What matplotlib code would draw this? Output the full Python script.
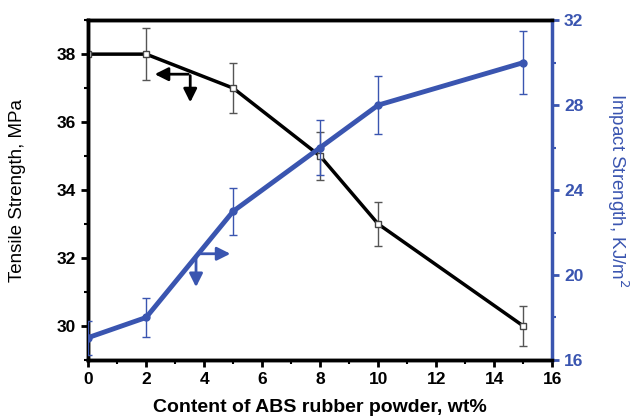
import matplotlib.pyplot as plt
from matplotlib.ticker import MultipleLocator

plt.rcParams['font.family'] = ['Liberation Sans', 'DejaVu Sans']

content = [0, 2, 5, 8, 10, 15]
tensile = [38, 38, 37, 35, 33, 30]
tensile_err = [0.0, 0.76, 0.74, 0.7, 0.65, 0.6]
impact = [17.05, 18, 23, 26, 28, 30]
impact_err = [0.8, 0.9, 1.1, 1.3, 1.37, 1.5]

blue = '#3a55b0'

fig = plt.figure(figsize=(6.34, 4.2), dpi=100)
ax = fig.add_axes([0.139, 0.143, 0.732, 0.809])
ax2 = ax.twinx()

ax.errorbar(content, tensile, yerr=tensile_err, color='black', lw=2.5,
            marker='s', ms=5, mfc='white', mec='#444444', mew=1,
            ecolor='#555555', elinewidth=1, capsize=3, zorder=3)
ax2.errorbar(content, impact, yerr=impact_err, color=blue, lw=3.5,
             marker='o', ms=5, mfc=blue, mec=blue,
             ecolor=blue, elinewidth=1, capsize=3, zorder=3)

ax.set_xlim(0, 16)
ax.set_ylim(29, 39)
ax2.set_ylim(16, 32)

# arrows pointing to the axes
arrow_k = dict(arrowstyle='-|>,head_length=0.5,head_width=0.25', color='black',
               lw=2, mutation_scale=16)
arrow_b = dict(arrowstyle='-|>,head_length=0.5,head_width=0.25', color=blue,
               lw=2, mutation_scale=16)
ax.annotate('', xy=(2.2, 37.41), xytext=(3.55, 37.41), arrowprops=arrow_k)
ax.annotate('', xy=(3.52, 36.5), xytext=(3.52, 37.45), arrowprops=arrow_k)
ax2.annotate('', xy=(5.0, 21.0), xytext=(3.7, 21.0), arrowprops=arrow_b)
ax2.annotate('', xy=(3.72, 19.3), xytext=(3.72, 21.05), arrowprops=arrow_b)

ax.xaxis.set_major_locator(MultipleLocator(2))
ax.xaxis.set_minor_locator(MultipleLocator(1))
ax.yaxis.set_major_locator(MultipleLocator(2))
ax.yaxis.set_minor_locator(MultipleLocator(1))
ax2.yaxis.set_major_locator(MultipleLocator(4))
ax2.yaxis.set_minor_locator(MultipleLocator(2))

for s in ['left', 'bottom', 'top']:
    ax.spines[s].set_linewidth(2.5)
    ax2.spines[s].set_linewidth(2.5)
ax2.spines['right'].set_linewidth(2.5)
ax2.spines['right'].set_color(blue)
ax.spines['right'].set_visible(False)

ax.tick_params(which='major', direction='out', length=5, width=2, labelsize=12.5)
ax.tick_params(which='minor', direction='out', length=3, width=1.5)
ax2.tick_params(which='major', direction='out', length=5, width=2, labelsize=12.5,
                colors=blue)
ax2.tick_params(which='minor', direction='out', length=3, width=1.5, colors=blue)

for lbl in ax.get_xticklabels() + ax.get_yticklabels():
    lbl.set_fontweight('bold')
for lbl in ax2.get_yticklabels():
    lbl.set_fontweight('bold')
    lbl.set_color(blue)

ax.set_xlabel('Content of ABS rubber powder, wt%', fontsize=14, fontweight='bold',
              labelpad=9)
ax.set_ylabel('Tensile Strength, MPa', fontsize=13.5, labelpad=22)
ax2.set_ylabel('Impact Strength, KJ/m$^2$', fontsize=13.5, color=blue,
               rotation=270, labelpad=34)

fig.savefig('out.png', dpi=100)
